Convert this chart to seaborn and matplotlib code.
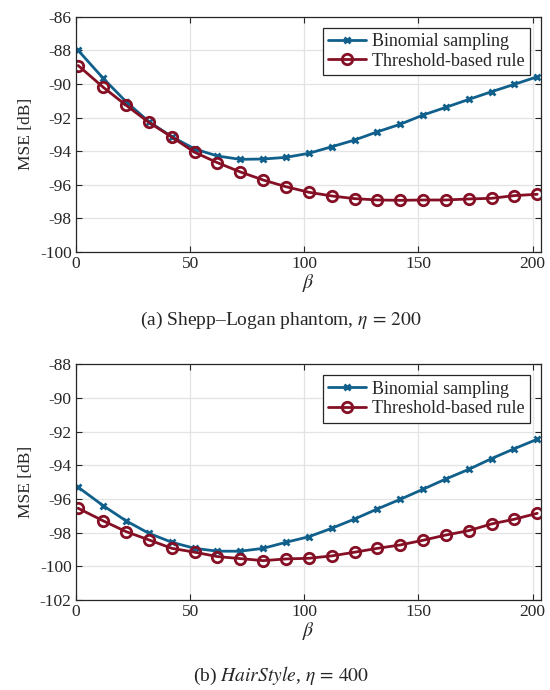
import numpy as np
import pandas as pd
import matplotlib
matplotlib.use("Agg")
import matplotlib.pyplot as plt
import seaborn as sns

sns.set_theme(style="whitegrid")
plt.rcParams['font.family'] = ['Liberation Serif', 'DejaVu Serif']
plt.rcParams['mathtext.fontset'] = 'stix'

# beta values (same for both panels)
beta = [1, 12, 22, 32, 42, 52, 62, 72, 82, 92, 102, 112, 122, 132, 142, 152, 162, 172, 182, 192, 202]

# (a) Shepp-Logan phantom, eta = 200
binom_a = [-88.0, -89.67, -91.06, -92.25, -93.14, -93.87, -94.29, -94.49, -94.47, -94.37, -94.13,
           -93.74, -93.34, -92.85, -92.40, -91.85, -91.39, -90.92, -90.46, -90.02, -89.57]
thresh_a = [-88.9, -90.2, -91.27, -92.29, -93.16, -94.07, -94.69, -95.24, -95.72, -96.12, -96.45,
            -96.67, -96.83, -96.91, -96.93, -96.91, -96.91, -96.85, -96.81, -96.65, -96.57]

# (b) HairStyle, eta = 400
binom_b = [-95.3, -96.4, -97.3, -98.04, -98.57, -98.93, -99.1, -99.1, -98.93, -98.57, -98.24,
           -97.74, -97.19, -96.59, -96.02, -95.42, -94.81, -94.24, -93.6, -93.01, -92.45]
thresh_b = [-96.55, -97.3, -97.94, -98.43, -98.93, -99.16, -99.42, -99.54, -99.66, -99.56, -99.52,
            -99.38, -99.16, -98.93, -98.73, -98.45, -98.14, -97.88, -97.48, -97.2, -96.85]

labels = ["Binomial sampling", "Threshold-based rule"]
blue = "#11608c"
red = "#850f24"

fig = plt.figure(figsize=(5.5, 6.9), dpi=100)
ax_a = fig.add_axes([0.138, 0.635, 0.845, 0.3406])
ax_b = fig.add_axes([0.138, 0.1304, 0.845, 0.3416])


def draw(ax, b_vals, t_vals, ylim, yticks):
    df = pd.DataFrame({"beta": beta * 2,
                       "mse": b_vals + t_vals,
                       "method": [labels[0]] * len(beta) + [labels[1]] * len(beta)})
    sns.lineplot(data=df[df.method == labels[0]], x="beta", y="mse", ax=ax, color=blue,
                 marker="x", markersize=5, markeredgewidth=2, markeredgecolor=blue,
                 linewidth=2, label=labels[0])
    sns.lineplot(data=df[df.method == labels[1]], x="beta", y="mse", ax=ax, color=red,
                 marker="o", markersize=7.5, markeredgewidth=2, markerfacecolor="none",
                 markeredgecolor=red, linewidth=2, label=labels[1])
    ax.set_xlim(0, 203.5)
    ax.set_ylim(*ylim)
    ax.set_xticks([0, 50, 100, 150, 200])
    ax.set_yticks(yticks)
    ax.set_yticklabels([str(v) for v in yticks])
    ax.grid(True, color="#e3e3e3", linewidth=0.9)
    for s in ax.spines.values():
        s.set_color("#262626")
        s.set_linewidth(0.9)
    ax.tick_params(direction="in", length=4, width=0.8, labelsize=12.5, colors="#262626",
                   top=True, right=True, bottom=True, left=True, pad=3)
    ax.set_xlabel(r"$\beta$", fontsize=14, labelpad=0)
    ax.set_ylabel("MSE [dB]", fontsize=12.5, labelpad=4)
    leg = ax.legend(loc="upper right", fontsize=13, frameon=True, fancybox=False,
                    edgecolor="#262626", framealpha=1, handlelength=2.1,
                    borderpad=0.3, labelspacing=0.15, handletextpad=0.3,
                    borderaxespad=0.6)
    leg.get_frame().set_linewidth(0.9)


draw(ax_a, binom_a, thresh_a, (-100, -86), list(range(-100, -85, 2)))
draw(ax_b, binom_b, thresh_b, (-102, -88), list(range(-102, -87, 2)))

fig.text(0.51, 0.535, r"(a) Shepp–Logan phantom, $\eta\,=\,200$", ha="center", va="center", fontsize=14)
fig.text(0.51, 0.02, r"(b) $\mathit{HairStyle}$, $\eta\,=\,400$", ha="center", va="center", fontsize=14)

fig.savefig("out.png", dpi=100)
